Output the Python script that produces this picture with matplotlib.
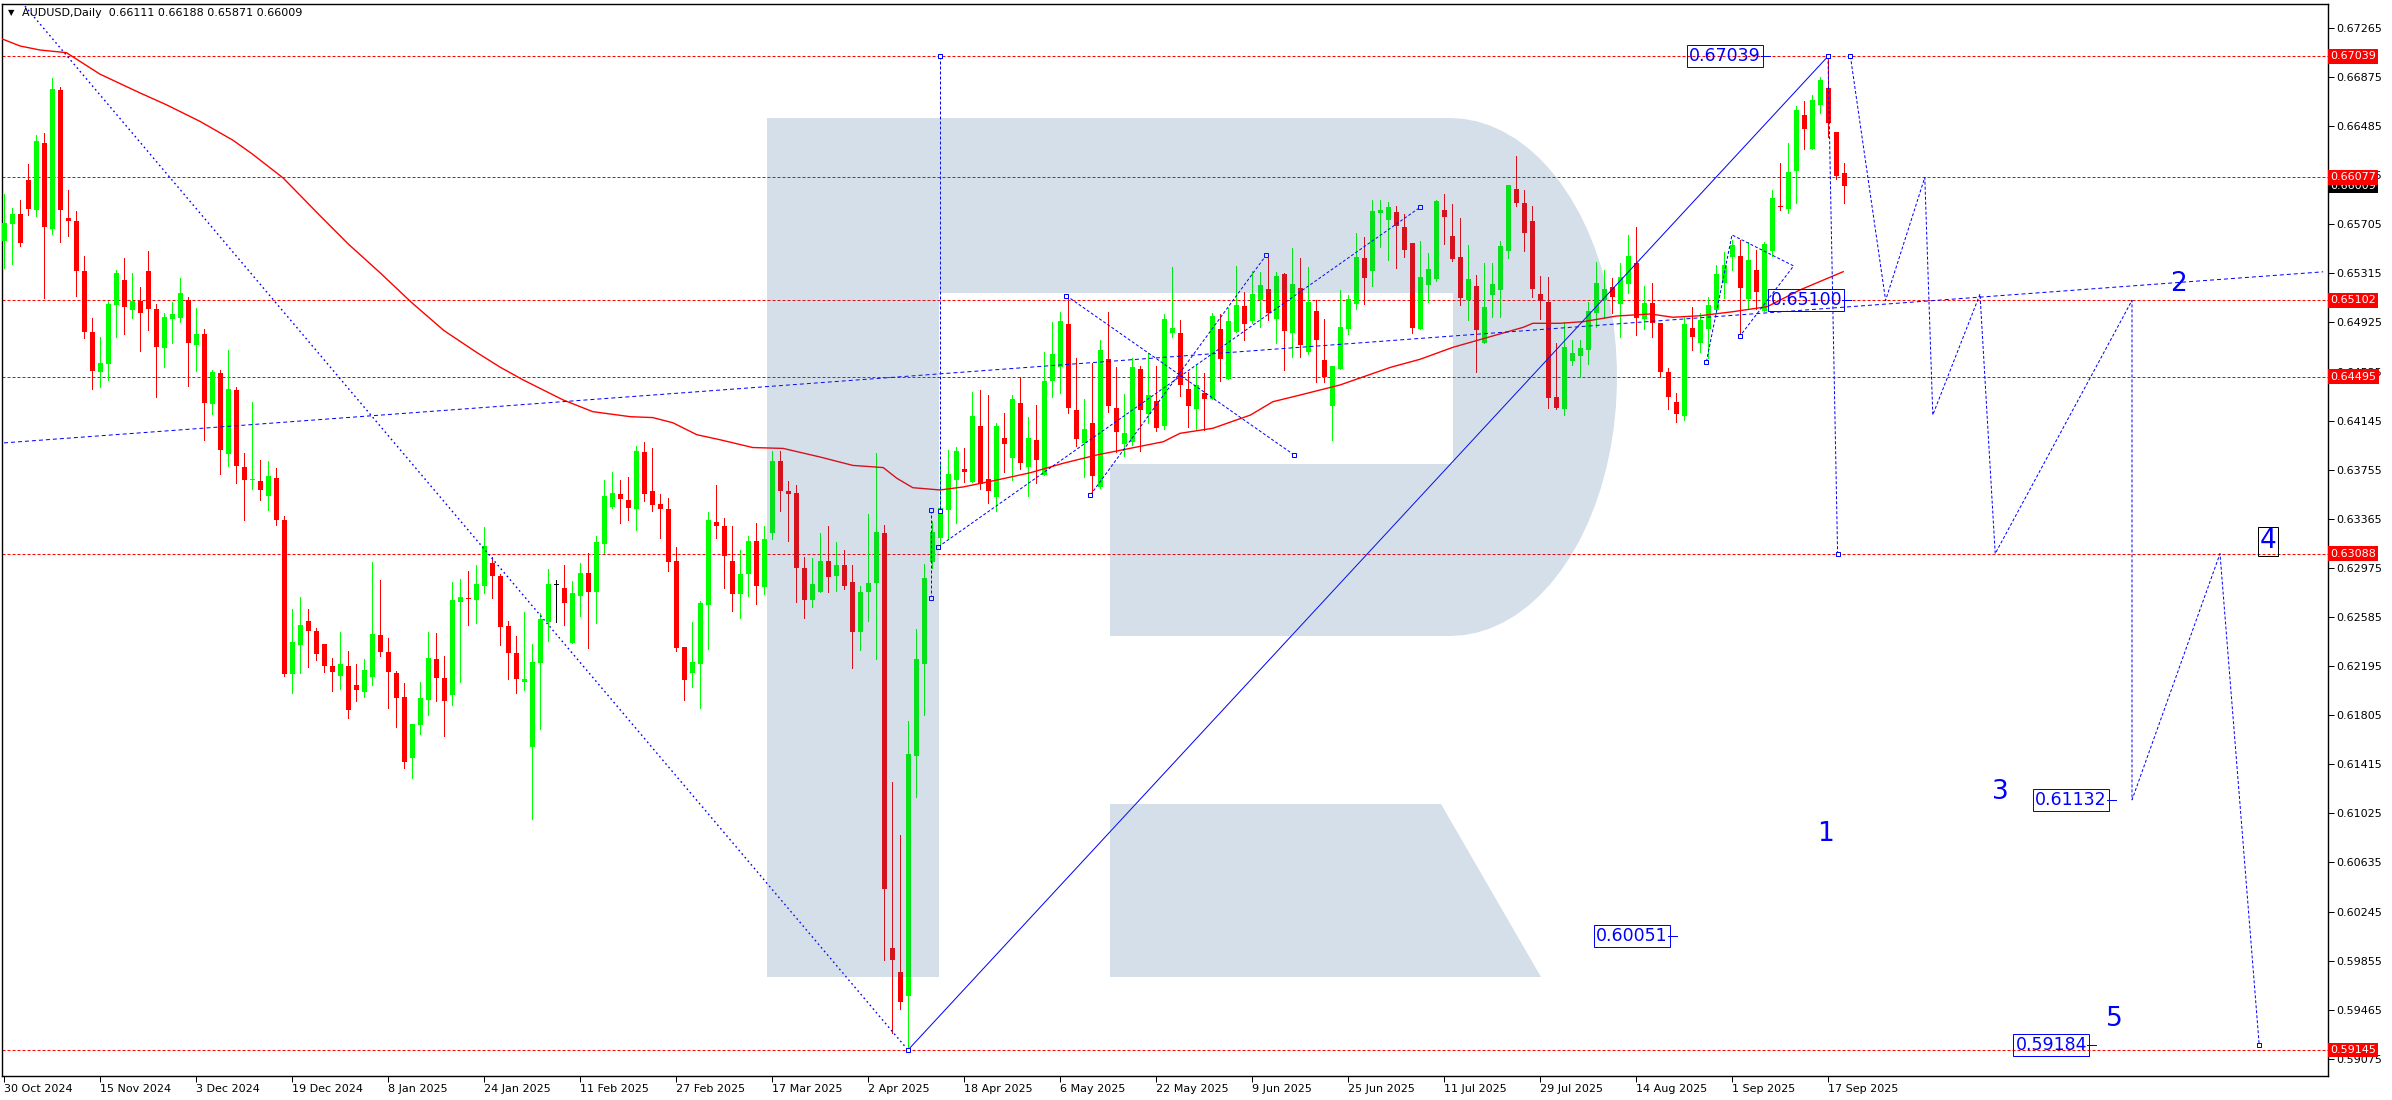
import numpy as np
import matplotlib
matplotlib.use("Agg")
import matplotlib.pyplot as plt
from matplotlib.patches import Polygon
import matplotlib.transforms as mtransforms

W, H = 2392, 1100
PX = 0.72  # one pixel in points at dpi 100

# ---------------- data ----------------
opens = [0.65574, 0.65705, 0.65787, 0.66057, 0.65818, 0.66350, 0.65671, 0.66770, 0.65754, 0.65731,
         0.65334, 0.64850, 0.64535, 0.64591, 0.65060, 0.65263, 0.65026, 0.65094, 0.65334, 0.65030,
         0.64719, 0.64955, 0.64963, 0.65101, 0.64749, 0.64831, 0.64280, 0.64524, 0.63883, 0.64389,
         0.63778, 0.63673, 0.63665, 0.63549, 0.63688, 0.63354, 0.62135, 0.62365, 0.62552, 0.62473,
         0.62371, 0.62196, 0.62119, 0.62196, 0.62045, 0.61992, 0.62111, 0.62442, 0.62307, 0.62140,
         0.61949, 0.61467, 0.61730, 0.61928, 0.62251, 0.62100, 0.61968, 0.62707, 0.62736, 0.62720,
         0.62834, 0.63014, 0.62911, 0.62513, 0.62296, 0.62071, 0.61555, 0.62222, 0.62548, 0.62836,
         0.62813, 0.62376, 0.62752, 0.62932, 0.62786, 0.63165, 0.63456, 0.63559, 0.63514, 0.63439,
         0.63899, 0.63585, 0.63483, 0.63439, 0.63028, 0.62343, 0.62142, 0.62213, 0.62682, 0.63341,
         0.63307, 0.63028, 0.62770, 0.62923, 0.63188, 0.62825, 0.63249, 0.63823, 0.63585, 0.63571,
         0.62974, 0.62723, 0.62787, 0.63028, 0.62913, 0.62994, 0.62862, 0.62465, 0.62780, 0.62858,
         0.63252, 0.59956, 0.59766, 0.59576, 0.61480, 0.62213, 0.63018, 0.63215, 0.63438, 0.63673,
         0.63761, 0.63660, 0.64102, 0.63681, 0.63541, 0.64004, 0.63845, 0.64285, 0.63779, 0.63988,
         0.63713, 0.64462, 0.64574, 0.64912, 0.64229, 0.63965, 0.64123, 0.63620, 0.64632, 0.64243,
         0.63959, 0.63973, 0.64552, 0.64198, 0.64301, 0.64105, 0.64844, 0.64841, 0.64394, 0.64240,
         0.64362, 0.64319, 0.64870, 0.64478, 0.64852, 0.65056, 0.64937, 0.65103, 0.65190, 0.64952,
         0.65310, 0.64844, 0.65198, 0.64693, 0.65016, 0.64627, 0.64264, 0.64555, 0.64873, 0.65071,
         0.65437, 0.65333, 0.65794, 0.65741, 0.65802, 0.65683, 0.65556, 0.64873, 0.65222, 0.65270,
         0.65818, 0.65611, 0.65445, 0.65103, 0.65214, 0.64764, 0.65146, 0.65183, 0.65495, 0.65985,
         0.65874, 0.65733, 0.65154, 0.65090, 0.64335, 0.64240, 0.64621, 0.64661, 0.64709, 0.64997,
         0.65103, 0.65204, 0.65069, 0.65233, 0.65394, 0.64950, 0.65077, 0.64918, 0.64531, 0.64293,
         0.64184, 0.64881, 0.64764, 0.64870, 0.65024, 0.65236, 0.65442, 0.65453, 0.65108, 0.65342,
         0.65019, 0.65495, 0.65853, 0.65829, 0.66131, 0.66573, 0.66305, 0.66652, 0.66785, 0.66435,
         0.66111]
highs = [0.65949, 0.65833, 0.65900, 0.66185, 0.66410, 0.66433, 0.66868, 0.66796, 0.65979, 0.65810,
         0.65454, 0.64959, 0.64809, 0.65098, 0.65338, 0.65435, 0.65319, 0.65206, 0.65491, 0.65071,
         0.64996, 0.65086, 0.65278, 0.65128, 0.65041, 0.64873, 0.64546, 0.64546, 0.64708, 0.64411,
         0.63886, 0.64291, 0.63830, 0.63823, 0.63766, 0.63388, 0.62650, 0.62744, 0.62650, 0.62495,
         0.62371, 0.62259, 0.62466, 0.62312, 0.62209, 0.62249, 0.63025, 0.62879, 0.62421, 0.62156,
         0.62060, 0.61735, 0.62068, 0.62466, 0.62458, 0.62275, 0.62863, 0.62887, 0.62950, 0.62998,
         0.63300, 0.63064, 0.62924, 0.62553, 0.62434, 0.62627, 0.62370, 0.62614, 0.62966, 0.62879,
         0.62998, 0.62871, 0.63017, 0.63091, 0.63231, 0.63673, 0.63737, 0.63676, 0.63697, 0.63940,
         0.63977, 0.63924, 0.63561, 0.63531, 0.63140, 0.62343, 0.62546, 0.62713, 0.63419, 0.63632,
         0.63371, 0.63307, 0.63116, 0.63229, 0.63330, 0.63307, 0.63904, 0.63904, 0.63666, 0.63632,
         0.63062, 0.63052, 0.63252, 0.63307, 0.63184, 0.63116, 0.63001, 0.62831, 0.63402, 0.63887,
         0.63313, 0.61276, 0.60852, 0.61762, 0.62488, 0.63004, 0.63350, 0.63800, 0.63912, 0.63938,
         0.63930, 0.64375, 0.64391, 0.64348, 0.64123, 0.64206, 0.64346, 0.64494, 0.64176, 0.64269,
         0.64690, 0.64928, 0.65008, 0.65116, 0.64640, 0.64317, 0.64605, 0.64785, 0.65008, 0.64571,
         0.64354, 0.64640, 0.64579, 0.64685, 0.64579, 0.64992, 0.65365, 0.64944, 0.64534, 0.64592,
         0.64526, 0.64997, 0.64992, 0.65037, 0.65373, 0.65164, 0.65333, 0.65325, 0.65434, 0.65328,
         0.65320, 0.65519, 0.65440, 0.65365, 0.65103, 0.64952, 0.64579, 0.65183, 0.65143, 0.65638,
         0.65604, 0.65898, 0.65895, 0.65882, 0.65850, 0.65784, 0.65556, 0.65572, 0.65477, 0.65900,
         0.65945, 0.65866, 0.65755, 0.65540, 0.65302, 0.65394, 0.65394, 0.65572, 0.66017, 0.66250,
         0.65977, 0.65850, 0.65296, 0.65288, 0.64759, 0.64928, 0.64785, 0.64785, 0.65085, 0.65405,
         0.65342, 0.65275, 0.65400, 0.65620, 0.65681, 0.65217, 0.65236, 0.64918, 0.64560, 0.64362,
         0.64971, 0.65045, 0.64997, 0.65125, 0.65379, 0.65487, 0.65580, 0.65580, 0.65567, 0.65500,
         0.65567, 0.65977, 0.66189, 0.66348, 0.66644, 0.66684, 0.66732, 0.66872, 0.67039, 0.66435,
         0.66188]
lows = [0.65360, 0.65386, 0.65529, 0.65780, 0.65773, 0.65116, 0.65630, 0.65566, 0.65615, 0.65135,
        0.64798, 0.64400, 0.64415, 0.64471, 0.64813, 0.64835, 0.64963, 0.64700, 0.64865, 0.64329,
        0.64572, 0.64760, 0.64925, 0.64423, 0.64539, 0.63988, 0.64201, 0.63718, 0.63785, 0.63646,
        0.63358, 0.63605, 0.63511, 0.63436, 0.63313, 0.62120, 0.61985, 0.62142, 0.62185, 0.62240,
        0.62151, 0.61999, 0.62013, 0.61785, 0.61920, 0.61952, 0.62045, 0.62275, 0.61865, 0.61714,
        0.61388, 0.61309, 0.61658, 0.61809, 0.61920, 0.61642, 0.61888, 0.62071, 0.62524, 0.62540,
        0.62778, 0.62738, 0.62362, 0.62092, 0.61984, 0.62005, 0.60977, 0.61698, 0.62397, 0.62545,
        0.62521, 0.62376, 0.62593, 0.62341, 0.62540, 0.63091, 0.63454, 0.63334, 0.63355, 0.63273,
        0.63510, 0.63429, 0.63211, 0.62950, 0.62315, 0.61922, 0.62030, 0.61864, 0.62329, 0.63215,
        0.62818, 0.62634, 0.62580, 0.62753, 0.62692, 0.62770, 0.63208, 0.63429, 0.63191, 0.62706,
        0.62573, 0.62668, 0.62780, 0.62780, 0.62791, 0.62804, 0.62183, 0.62319, 0.62556, 0.62254,
        0.59861, 0.59284, 0.59467, 0.59145, 0.61151, 0.61803, 0.62974, 0.63144, 0.63215, 0.63329,
        0.63660, 0.63660, 0.63602, 0.63488, 0.63430, 0.63740, 0.63673, 0.63758, 0.63549, 0.63652,
        0.63713, 0.64335, 0.64367, 0.64208, 0.63943, 0.63700, 0.63581, 0.63607, 0.64216, 0.63898,
        0.63866, 0.63951, 0.63906, 0.64129, 0.64065, 0.64076, 0.64812, 0.64343, 0.64092, 0.64071,
        0.64071, 0.64314, 0.64462, 0.64478, 0.64852, 0.64785, 0.64918, 0.64891, 0.64944, 0.64764,
        0.64550, 0.64653, 0.64653, 0.64674, 0.64449, 0.64449, 0.63991, 0.64555, 0.64833, 0.65034,
        0.65071, 0.65214, 0.65527, 0.65421, 0.65360, 0.65447, 0.64844, 0.64873, 0.65090, 0.65254,
        0.65551, 0.65416, 0.65066, 0.64944, 0.64534, 0.64764, 0.64971, 0.64971, 0.65434, 0.65853,
        0.65495, 0.65124, 0.64950, 0.64248, 0.64235, 0.64187, 0.64587, 0.64489, 0.64595, 0.64891,
        0.64963, 0.65003, 0.64812, 0.65156, 0.64825, 0.64873, 0.64809, 0.64494, 0.64235, 0.64137,
        0.64150, 0.64706, 0.64690, 0.64640, 0.65011, 0.65117, 0.65342, 0.64817, 0.65029, 0.65029,
        0.65019, 0.65453, 0.65818, 0.65792, 0.65876, 0.66300, 0.66305, 0.66586, 0.66401, 0.66062,
        0.65871]
closes = [0.65717, 0.65787, 0.65555, 0.65825, 0.66365, 0.65686, 0.66781, 0.65818, 0.65728, 0.65330,
          0.64850, 0.64543, 0.64603, 0.65071, 0.65319, 0.65045, 0.65094, 0.64996, 0.65034, 0.64726,
          0.64966, 0.64993, 0.65158, 0.64764, 0.64831, 0.64288, 0.64531, 0.63909, 0.64396, 0.63785,
          0.63676, 0.63680, 0.63590, 0.63706, 0.63358, 0.62135, 0.62387, 0.62522, 0.62477, 0.62293,
          0.62198, 0.62151, 0.62212, 0.61849, 0.62005, 0.62164, 0.62450, 0.62310, 0.62151, 0.61944,
          0.61436, 0.61735, 0.61941, 0.62259, 0.62103, 0.61920, 0.62720, 0.62741, 0.62731, 0.62847,
          0.63149, 0.62913, 0.62508, 0.62302, 0.62090, 0.62090, 0.62227, 0.62569, 0.62847, 0.62836,
          0.62699, 0.62773, 0.62932, 0.62786, 0.63178, 0.63546, 0.63567, 0.63522, 0.63453, 0.63906,
          0.63558, 0.63476, 0.63439, 0.63025, 0.62336, 0.62081, 0.62227, 0.62699, 0.63354, 0.63310,
          0.63066, 0.62770, 0.62926, 0.63188, 0.62835, 0.63205, 0.63823, 0.63588, 0.63565, 0.62971,
          0.62716, 0.62848, 0.63028, 0.62906, 0.62998, 0.62835, 0.62468, 0.62784, 0.62855, 0.63259,
          0.60428, 0.59861, 0.59528, 0.61494, 0.62251, 0.62896, 0.63259, 0.63448, 0.63721, 0.63904,
          0.63740, 0.64184, 0.63639, 0.63588, 0.64102, 0.63957, 0.64317, 0.63811, 0.64004, 0.63835,
          0.64460, 0.64674, 0.64936, 0.64248, 0.64002, 0.64079, 0.63708, 0.64706, 0.64264, 0.64057,
          0.64044, 0.64568, 0.64232, 0.64346, 0.64089, 0.64950, 0.64881, 0.64431, 0.64264, 0.64425,
          0.64319, 0.64976, 0.64637, 0.64934, 0.65063, 0.64915, 0.65151, 0.65222, 0.65003, 0.65294,
          0.64857, 0.65230, 0.64746, 0.65087, 0.64785, 0.64494, 0.64579, 0.64889, 0.65111, 0.65447,
          0.65278, 0.65813, 0.65818, 0.65842, 0.65691, 0.65500, 0.64881, 0.65288, 0.65349, 0.65890,
          0.65763, 0.65432, 0.65122, 0.65270, 0.64865, 0.65048, 0.65230, 0.65532, 0.66017, 0.65871,
          0.65638, 0.65188, 0.65098, 0.64327, 0.64248, 0.64730, 0.64679, 0.64719, 0.65016, 0.65236,
          0.65191, 0.65130, 0.65283, 0.65453, 0.64958, 0.65077, 0.64918, 0.64529, 0.64335, 0.64195,
          0.64913, 0.64812, 0.64944, 0.65064, 0.65310, 0.65381, 0.65540, 0.65201, 0.65421, 0.65170,
          0.65548, 0.65911, 0.65839, 0.66120, 0.66613, 0.66464, 0.66692, 0.66851, 0.66512, 0.66088,
          0.66009]

date_labels = ['30 Oct 2024', '15 Nov 2024', '3 Dec 2024', '19 Dec 2024', '8 Jan 2025',
               '24 Jan 2025', '11 Feb 2025', '27 Feb 2025', '17 Mar 2025', '2 Apr 2025',
               '18 Apr 2025', '6 May 2025', '22 May 2025', '9 Jun 2025', '25 Jun 2025',
               '11 Jul 2025', '29 Jul 2025', '14 Aug 2025', '1 Sep 2025', '17 Sep 2025']
date_step = 12

price_ticks = [0.67265, 0.66875, 0.66485, 0.66095, 0.65705, 0.65315, 0.64925, 0.64535,
               0.64145, 0.63755, 0.63365, 0.62975, 0.62585, 0.62195, 0.61805, 0.61415,
               0.61025, 0.60635, 0.60245, 0.59855, 0.59465, 0.59075]

# moving average, sampled along the red curve (bar index, price)
ma_bars = [-0.5, 2, 4.5, 7.8, 9.1, 12, 17, 20.3, 24.5, 28.6, 31.1, 34.9, 39.5, 43, 47, 51, 55,
           59, 62, 64.9, 69.9, 73.6, 78.3, 81.1, 83.6, 86.6, 89.5, 93.6, 97.4, 102, 106.1,
           109.9, 111.6, 113.6, 117, 119.9, 124.1, 128.3, 132.4, 136.6, 140.8, 144.9, 147,
           151.1, 155.8, 158.6, 162, 167, 173.3, 177, 181.1, 185.8, 189.9, 191.1, 194.5,
           197.4, 201.6, 205.8, 208.6, 212, 216.1, 220.4, 224.5, 229.9]
ma_vals = [0.67184, 0.67121, 0.67089, 0.67068, 0.67015, 0.66897, 0.66748, 0.66654, 0.66522,
           0.66373, 0.66260, 0.66072, 0.65773, 0.6555, 0.6532, 0.6508, 0.6486, 0.6469, 0.6457,
           0.64468, 0.64309, 0.64216, 0.64176, 0.64169, 0.64128, 0.64033, 0.63993, 0.63931,
           0.63924, 0.63856, 0.63789, 0.63772, 0.63687, 0.63612, 0.63594, 0.63618, 0.63673,
           0.63731, 0.63806, 0.63872, 0.63925, 0.63977, 0.64044, 0.64084, 0.64189, 0.64295,
           0.64348, 0.64428, 0.64568, 0.64632, 0.64727, 0.64812, 0.64886, 0.64918, 0.64918,
           0.64931, 0.64976, 0.64992, 0.64966, 0.64978, 0.65010, 0.65050, 0.65183, 0.65328]

levels = [0.67039, 0.66077, 0.65102, 0.64495, 0.63088, 0.59145]
last_price = 0.66009
header = 'AUDUSD,Daily  0.66111 0.66188 0.65871 0.66009'

# trend lines (bar, price)
dotted_line = [(0, 0.67634), (113, 0.59145)]
solid_line = [(113, 0.59145), (228, 0.67039)]
long_dashed = [(0, 0.63968), (289.9, 0.65327)]

# dashed wave paths
wave_paths = [
    [(228, 0.67039), (229.2, 0.63088)],
    [(230.8, 0.67039), (235.2, 0.65100), (240.1, 0.66077), (241.1, 0.64190),
     (247.0, 0.65150), (248.9, 0.63088), (266.0, 0.65100), (266.0, 0.61132),
     (277.0, 0.63088), (281.9, 0.59184)],
    [(117, 0.67039), (117, 0.63430)],
    [(115.9, 0.63433), (115.9, 0.62736)],
    [(116.8, 0.63143), (177.0, 0.65839)],
    [(132.8, 0.65137), (161.2, 0.63875)],
    [(135.8, 0.63554), (157.8, 0.65462)],
    [(212.8, 0.64613), (216.0, 0.65620), (223.7, 0.65374), (217.0, 0.64817)],
]

price_tags = [('0.67039', 220.75, 0.67039), ('0.65100', 230.9, 0.65100),
              ('0.61132', 264.0, 0.61132), ('0.60051', 209.1, 0.60051),
              ('0.59184', 261.5, 0.59184)]
wave_labels = [('1', 227.75, 0.60860), ('2', 271.75, 0.65231), ('3', 249.6, 0.61193),
               ('4', 283.0, 0.63185), ('5', 263.75, 0.59391)]

# ---------------- figure ----------------
L, R, T, B = 2, 2328, 4, 1076
fig = plt.figure(figsize=(W / 100, H / 100), dpi=100)
fig.patch.set_facecolor('white')
ax = fig.add_axes([L / W, 1 - B / H, (R - L) / W, (B - T) / H])
ax.set_xlim(-0.25, 290.5)
ax.set_ylim(0.589385, 0.674545)

o = np.array(opens); h = np.array(highs); l = np.array(lows); c = np.array(closes)
x = np.arange(len(o))
cols = np.where(c > o, '#00ff00', np.where(c < o, '#ff0000', '#000000'))
ax.vlines(x, l, h, colors=cols, lw=PX, zorder=3, antialiased=False)
body = np.maximum(np.abs(c - o), 0.00008)
ax.bar(x, body, bottom=np.minimum(o, c), width=0.625, color=cols, lw=0, zorder=3,
       antialiased=False)

ax.plot(ma_bars, ma_vals, color='#ff0000', lw=1.0, zorder=3)

for lv in levels:
    ax.axhline(lv, color='#ff0000', lw=PX, ls=(0, (3, 2)), zorder=2)

blue = '#0000ff'
ax.plot(*zip(*dotted_line), color=blue, lw=1.0, ls=(0, (1.2, 2.2)), zorder=3)
ax.plot(*zip(*solid_line), color=blue, lw=PX, zorder=3)
ax.plot(*zip(*long_dashed), color=blue, lw=PX, ls=(0, (4, 3)), zorder=3)
for path in wave_paths:
    xs, ys = zip(*path)
    ax.plot(xs, ys, color=blue, lw=PX, ls=(0, (3, 2)), zorder=3)
    ax.plot([xs[0], xs[-1]], [ys[0], ys[-1]], ls='none', marker='s', ms=3, mfc='white',
            mec=blue, mew=PX, zorder=4)
ax.plot([solid_line[0][0], solid_line[1][0]], [solid_line[0][1], solid_line[1][1]], ls='none',
        marker='s', ms=3, mfc='white', mec=blue, mew=PX, zorder=4)

for txt, bx, py in price_tags:
    ax.plot([bx - 1.1, bx], [py, py], color=blue, lw=PX, zorder=5)
    ax.annotate(txt, xy=(bx, py), xytext=(-9, 0), textcoords='offset pixels', ha='right',
                va='center', color=blue, fontsize=12.5, zorder=7,
                bbox=dict(boxstyle='square,pad=0.12', fc='none', ec=blue, lw=PX))

for txt, bx, py in wave_labels:
    kw = {}
    if txt == '4':
        kw['bbox'] = dict(boxstyle='square,pad=0.05', fc='none', ec='black', lw=PX)
    ax.text(bx, py, txt, ha='center', va='center', color=blue, fontsize=19, zorder=7, **kw)

# RoboForex-like watermark, placed in canvas pixels
def to_ax(px, py):
    return ((px - L) / (R - L), 1 - (py - T) / (B - T))

cx, cy, rx, ry = 1450, 377, 167, 259
arc = [(cx + rx * np.cos(t), cy - ry * np.sin(t)) for t in np.linspace(np.pi / 2, -np.pi / 2, 40)]
outline = [(767, 118)] + arc + [(1110, 636), (1110, 464), (1453, 464), (1453, 293),
                               (939, 293), (939, 977), (767, 977)]
leg = [(1110, 804), (1441, 804), (1541, 977), (1110, 977)]
for shape in (outline, leg):
    ax.add_patch(Polygon([to_ax(*p) for p in shape], closed=True, transform=ax.transAxes,
                         fc='#2d5f96', alpha=0.2, lw=0, zorder=6))

# axes styling
for s in ax.spines.values():
    s.set_color('black'); s.set_linewidth(PX * 1.4)
ax.yaxis.tick_right()
ax.set_yticks(price_ticks)
ax.set_yticklabels([f'{t:.5f}' for t in price_ticks])
ax.set_xticks([i * date_step for i in range(len(date_labels))])
ax.set_xticklabels(date_labels)
ax.tick_params(axis='y', direction='out', length=4, width=PX, pad=2, labelsize=8)
ax.tick_params(axis='x', direction='out', length=4, width=PX, pad=2, labelsize=8)
for lbl in ax.get_xticklabels():
    lbl.set_horizontalalignment('left')

ybl = mtransforms.blended_transform_factory(ax.transAxes, ax.transData)
ax.text(1.0009, last_price, f'{last_price:.5f}', transform=ybl, ha='left', va='center',
        color='white', fontsize=8, zorder=8, clip_on=False,
        bbox=dict(boxstyle='square,pad=0.22', fc='black', ec='none'))
for lv in levels:
    ax.text(1.0009, lv, f'{lv:.5f}', transform=ybl, ha='left', va='center', color='white',
            fontsize=8, zorder=9, clip_on=False,
            bbox=dict(boxstyle='square,pad=0.22', fc='#ff0000', ec='none'))

fig.text(8 / W, 1 - 13 / H, '\u25bc', fontsize=6, va='center', ha='left')
fig.text(22 / W, 1 - 13 / H, header, fontsize=8, va='center', ha='left')

fig.savefig('out.png', dpi=100)
